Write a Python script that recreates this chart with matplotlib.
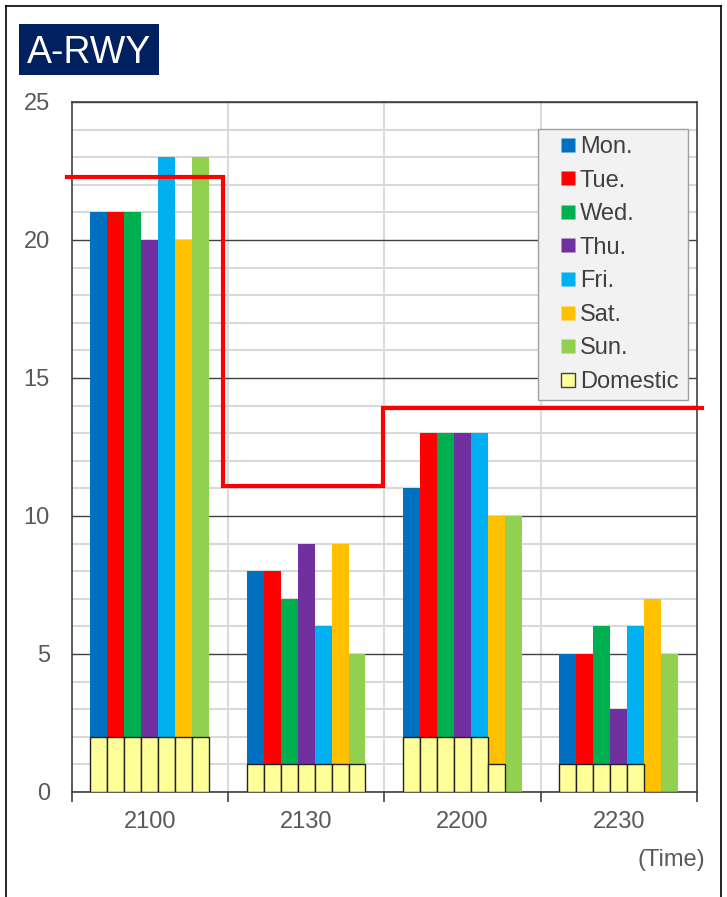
import matplotlib
matplotlib.use('Agg')
import matplotlib.pyplot as plt
from matplotlib.patches import Rectangle
from matplotlib.lines import Line2D
import numpy as np

plt.rcParams['font.family'] = ['Liberation Sans', 'DejaVu Sans']

times = ['2100', '2130', '2200', '2230']
days = ['Mon.', 'Tue.', 'Wed.', 'Thu.', 'Fri.', 'Sat.', 'Sun.']
day_colors = ['#0070C0', '#FF0000', '#00B050', '#7030A0', '#00B0F0', '#FFC000', '#92D050']

# total movements per day (rows = days, cols = time slots)
totals = [
    [21, 8, 11, 5],   # Mon
    [21, 8, 13, 5],   # Tue
    [21, 7, 13, 6],   # Wed
    [20, 9, 13, 3],   # Thu
    [23, 6, 13, 6],   # Fri
    [20, 9, 10, 7],   # Sat
    [23, 5, 10, 5],   # Sun
]
# domestic part of each bar
domestic = [
    [2, 1, 2, 1],
    [2, 1, 2, 1],
    [2, 1, 2, 1],
    [2, 1, 2, 1],
    [2, 1, 2, 1],
    [2, 1, 1, 0],
    [2, 1, 0, 0],
]
# capacity step line
cap_x = [-0.53, 0.47, 0.47, 1.49, 1.49, 3.53]
cap_y = [22.3, 22.3, 11.1, 11.1, 13.9, 13.9]

fig = plt.figure(figsize=(7.27, 8.97), dpi=100)
ax = fig.add_axes([71.5 / 727, 0.1171, 625.5 / 727, 0.7692])

x = np.arange(len(times))
n = len(days)
w = 0.76 / n
for i in range(n):
    pos = x - 0.38 + w * (i + 0.5)
    ax.bar(pos, totals[i], width=w, color=day_colors[i], zorder=3)
    ax.bar(pos, domestic[i], width=w, color='#FFFF99', edgecolor='#222222',
           linewidth=1.0, zorder=4)

ax.plot(cap_x, cap_y, color='#FF0000', lw=3, zorder=6, clip_on=False,
        solid_joinstyle='miter')

ax.set_xlim(-0.5, 3.5)
ax.set_ylim(0, 25)
ax.set_yticks([0, 5, 10, 15, 20, 25])
ax.set_yticks(np.arange(0, 26, 1), minor=True)
ax.set_xticks(x)
ax.set_xticklabels(times)
ax.set_xticks([-0.5, 0.5, 1.5, 2.5, 3.5], minor=True)

ax.grid(axis='y', which='minor', color='#D9D9D9', lw=1.5, zorder=0)
ax.grid(axis='y', which='major', color='#404040', lw=1.0, zorder=1)
for b in [0.5, 1.5, 2.5]:
    ax.axvline(b, color='#DCDCDC', lw=1.5, zorder=0)

ax.tick_params(axis='x', which='major', length=0, pad=14, labelsize=17, labelcolor='#595959')
ax.tick_params(axis='x', which='minor', length=7, width=1.2, color='#404040')
ax.tick_params(axis='y', which='both', length=0, pad=15.5, labelsize=17, labelcolor='#595959')
for s in ax.spines.values():
    s.set_color('#404040')
    s.set_linewidth(1.2)

handles = [Line2D([], [], ls='none', marker='s', markersize=10, markerfacecolor=c,
                  markeredgecolor='none') for c in day_colors]
handles.append(Line2D([], [], ls='none', marker='s', markersize=10,
                      markerfacecolor='#FFFF99', markeredgecolor='#404040',
                      markeredgewidth=1.0))
leg = ax.legend(handles, days + ['Domestic'], loc='upper left',
                bbox_to_anchor=(0.7458, 0.0, 0.2398, 0.9609), mode='expand',
                fontsize=17, frameon=True, fancybox=False, framealpha=1,
                facecolor='#F2F2F2', edgecolor='#A0A0A0', handlelength=1.93,
                handletextpad=-0.46, labelspacing=0.49, borderpad=0.3,
                borderaxespad=0)
for t in leg.get_texts():
    t.set_color('#404040')
leg.set_zorder(7)

fig.text(705 / 727, 1 - 860 / 897, '(Time)', ha='right', va='center',
         fontsize=17, color='#595959')

# title box
fig.patches.append(Rectangle((19 / 727, 1 - 75 / 897), 140 / 727, 51 / 897,
                             transform=fig.transFigure, facecolor='#002060',
                             edgecolor='none'))
fig.text(89 / 727, 1 - 63 / 897, 'A-RWY', ha='center', va='baseline',
         fontsize=27, color='white')

# outer frame
fig.add_artist(Line2D([6 / 727, 6 / 727], [0, 1 - 6 / 897], color='black', lw=1.2))
fig.add_artist(Line2D([721 / 727, 721 / 727], [0, 1 - 6 / 897], color='black', lw=1.2))
fig.add_artist(Line2D([6 / 727, 721 / 727], [1 - 6 / 897, 1 - 6 / 897], color='black', lw=1.2))

fig.savefig('out.png', dpi=100)
